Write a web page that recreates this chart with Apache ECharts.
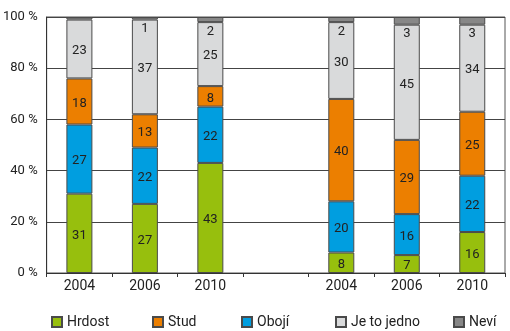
<!DOCTYPE html>
<html>
<head>
<meta charset="utf-8">
<script src="https://cdn.jsdelivr.net/npm/echarts@6/dist/echarts.min.js"></script>
<style>
  html, body { margin: 0; padding: 0; background: #fff; }
  #chart { width: 510px; height: 331px; }
</style>
</head>
<body>
<div id="chart"></div>
<script>
// kategorie: dvě skupiny po třech letech, mezi nimi prázdné místo
var years = ["2004", "2006", "2010", "", "2004", "2006", "2010"];
var hrdost = [31, 27, 43, null, 8, 7, 16];
var oboji = [27, 22, 22, null, 20, 16, 22];
var stud = [18, 13, 8, null, 40, 29, 25];
var jedno = [23, 37, 25, null, 30, 45, 34];
var nevi = [1, 1, 2, null, 2, 3, 3];
var yTicks = [0, 20, 40, 60, 80, 100];
var legendNames = ["Hrdost", "Stud", "Obojí", "Je to jedno", "Neví"];

var font = "Roboto, 'Liberation Sans', sans-serif";
var textColor = "#222";

var myChart = echarts.init(document.getElementById("chart"));

function barSeries(name, data, color) {
  return {
    name: name,
    type: "bar",
    stack: "total",
    barWidth: 26,
    data: data,
    itemStyle: { color: color, borderColor: "#4a4a4a", borderWidth: 1 },
    label: {
      show: true,
      position: "inside",
      color: textColor,
      fontSize: 13,
      fontFamily: font,
      offset: [0, 2]
    }
  };
}

// Neví: popisek pod tmavým segmentem, u prvního sloupce bez popisku
var neviData = nevi.map(function (v, i) {
  if (i === 0) return { value: v, label: { show: false } };
  return v;
});
var neviSeries = barSeries("Neví", neviData, "#878787");
neviSeries.label.position = "bottom";
neviSeries.label.distance = 3;
neviSeries.label.offset = [0, 0];

// legenda: každá položka zvlášť, aby sedělo rozmístění
var legendLeft = [46, 147, 236, 330, 448];
var legends = legendNames.map(function (n, i) {
  return {
    data: [n],
    left: legendLeft[i],
    top: 310,
    itemWidth: 10,
    itemHeight: 10,
    icon: "rect",
    textStyle: { color: textColor, fontSize: 14, fontFamily: font }
  };
});

var option = {
  animation: false,
  grid: {
    left: 46,
    right: 5,
    top: 17,
    bottom: 58,
    show: true,
    borderColor: "#555",
    borderWidth: 1
  },
  legend: legends,
  xAxis: {
    type: "category",
    data: years,
    axisLine: { lineStyle: { color: "#333", width: 1 } },
    axisTick: { show: true, alignWithLabel: false, length: 4, lineStyle: { color: "#333" } },
    axisLabel: { color: textColor, fontSize: 14, fontFamily: font, margin: 6 }
  },
  yAxis: {
    type: "value",
    min: yTicks[0],
    max: yTicks[yTicks.length - 1],
    interval: 20,
    axisLine: { show: true, lineStyle: { color: "#333", width: 1 } },
    axisTick: { show: false },
    splitLine: { lineStyle: { color: "#444", width: 1 } },
    axisLabel: {
      color: textColor,
      fontSize: 13,
      fontFamily: font,
      margin: 9,
      formatter: "{value} %"
    }
  },
  series: [
    barSeries("Hrdost", hrdost, "#97bf0d"),
    barSeries("Obojí", oboji, "#009ee0"),
    barSeries("Stud", stud, "#ec7f00"),
    barSeries("Je to jedno", jedno, "#d9dadb"),
    neviSeries
  ]
};

myChart.setOption(option);
</script>
</body>
</html>
